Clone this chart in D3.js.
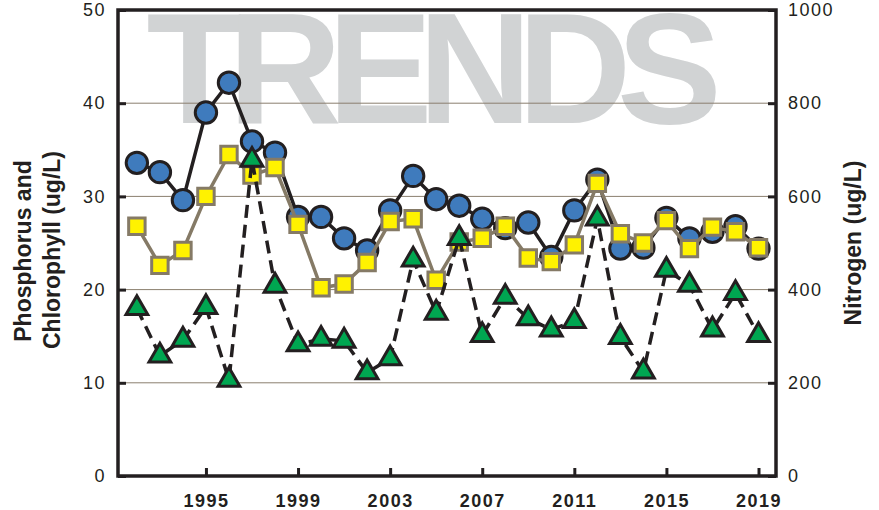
<!DOCTYPE html>
<html>
<head>
<meta charset="utf-8">
<script src="https://cdn.jsdelivr.net/npm/d3@7"></script>
<style>
    body { margin: 0; background: #fff; }
    text { font-family: "Liberation Sans", Arial, sans-serif; fill: #231f20; }
</style>
</head>
<body>
<script>
// data
const years = [1992, 1993, 1994, 1995, 1996, 1997, 1998, 1999, 2000, 2001, 2002, 2003, 2004, 2005,
    2006, 2007, 2008, 2009, 2010, 2011, 2012, 2013, 2014, 2015, 2016, 2017, 2018, 2019];
// right axis (ug/L)
const nitrogen = [672, 652, 592, 780, 844, 718, 694, 556, 556, 510, 484, 570, 644, 594,
    580, 552, 532, 544, 470, 570, 636, 488, 490, 554, 510, 524, 536, 488];
// left axis (ug/L)
const phosphorus = [26.8, 22.6, 24.2, 30.0, 34.5, 32.3, 33.1, 27.0, 20.2, 20.6, 22.9, 27.3, 27.6, 21.0,
    25.1, 25.5, 26.8, 23.4, 23.0, 24.8, 31.4, 26.0, 25.0, 27.4, 24.4, 26.7, 26.2, 24.5];
const chlorophyll = [18.0, 12.9, 14.6, 18.1, 10.3, 33.9, 20.4, 14.1, 14.7, 14.5, 11.1, 12.6, 23.2, 17.5,
    25.5, 15.1, 19.2, 16.9, 15.7, 16.6, 27.6, 14.9, 11.2, 22.1, 20.5, 15.7, 19.6, 15.1];
const leftTicks = [0, 10, 20, 30, 40, 50];
const rightTicks = [0, 200, 400, 600, 800, 1000];
const yearTicks = [1995, 1999, 2003, 2007, 2011, 2015, 2019];

const width = 879;
const height = 510;
const plotLeft = 118, plotRight = 776, plotTop = 10, plotBottom = 476;

const svg = d3.select("body")
    .append("svg")
    .attr("width", width)
    .attr("height", height);

const xScale = d3.scaleLinear()
    .domain([1991.18, 2019.76])
    .range([plotLeft, plotRight]);

const yLeft = d3.scaleLinear()
    .domain([0, 50])
    .range([plotBottom, plotTop]);

const yRight = d3.scaleLinear()
    .domain([0, 1000])
    .range([plotBottom, plotTop]);

// watermark: fit the glyphs into the box x 148..716, y 13..123
const ctx = document.createElement("canvas").getContext("2d");
ctx.font = "bold 100px 'Liberation Sans'";
const m = ctx.measureText("TRENDS");
const wmScale = 110 / m.actualBoundingBoxAscent;
const lsb = -m.actualBoundingBoxLeft * wmScale;
const rsb = (m.width - m.actualBoundingBoxRight) * wmScale;

svg.append("text")
    .attr("x", 148 - lsb)
    .attr("y", 123)
    .attr("font-size", 100 * wmScale)
    .attr("font-weight", "bold")
    .attr("textLength", 568 + lsb + rsb)
    .attr("lengthAdjust", "spacing")
    .style("fill", "#d1d3d4")
    .text("TRENDS");

// gridlines
svg.append("g")
    .selectAll("line")
    .data(leftTicks.filter(d => d > 0 && d < 50))
    .enter()
    .append("line")
    .attr("x1", plotLeft)
    .attr("x2", plotRight)
    .attr("y1", d => yLeft(d))
    .attr("y2", d => yLeft(d))
    .attr("stroke", "#8a7f6e")
    .attr("stroke-width", 1);

// axes, ticks pointing inward
const tickStyle = (g) => {
    g.select(".domain").remove();
    g.selectAll(".tick line").attr("stroke", "#231f20").attr("stroke-width", 3);
    g.selectAll(".tick text")
        .attr("font-size", 18)
        .attr("letter-spacing", "1.5px")
        .style("font-family", "'Liberation Sans', Arial, sans-serif")
        .style("fill", "#231f20");
};

svg.append("g")
    .attr("transform", "translate(" + plotLeft + ",0)")
    .call(d3.axisLeft(yLeft).tickValues(leftTicks).tickSize(-8).tickPadding(12))
    .call(tickStyle);

svg.append("g")
    .attr("transform", "translate(" + plotRight + ",0)")
    .call(d3.axisRight(yRight).tickValues(rightTicks).tickFormat(d3.format("d")).tickSize(-8).tickPadding(12))
    .call(tickStyle);

svg.append("g")
    .attr("transform", "translate(0," + plotBottom + ")")
    .call(d3.axisBottom(xScale).tickValues(yearTicks).tickFormat(d3.format("d")).tickSize(-8).tickPadding(18))
    .call(tickStyle)
    .selectAll(".tick text")
    .attr("font-weight", "bold");

// frame
svg.append("rect")
    .attr("x", plotLeft)
    .attr("y", plotTop)
    .attr("width", plotRight - plotLeft)
    .attr("height", plotBottom - plotTop)
    .attr("fill", "none")
    .attr("stroke", "#231f20")
    .attr("stroke-width", 3.5);

// axis titles
svg.append("text")
    .attr("transform", "translate(31,251) rotate(-90)")
    .attr("text-anchor", "middle")
    .attr("font-size", 23)
    .attr("font-weight", "bold")
    .text("Phosphorus and");

svg.append("text")
    .attr("transform", "translate(60,250) rotate(-90)")
    .attr("text-anchor", "middle")
    .attr("font-size", 23)
    .attr("font-weight", "bold")
    .text("Chlorophyll (ug/L)");

svg.append("text")
    .attr("transform", "translate(861,243) rotate(-90)")
    .attr("text-anchor", "middle")
    .attr("font-size", 23)
    .attr("font-weight", "bold")
    .text("Nitrogen (ug/L)");

// series
const drawSeries = (values, yScale, lineColor, dash, symbol, size, fill, stroke) => {
    const pts = years.map((y, i) => [xScale(y), yScale(values[i])]);
    svg.append("path")
        .attr("d", d3.line()(pts))
        .attr("fill", "none")
        .attr("stroke", lineColor)
        .attr("stroke-width", 3.5)
        .attr("stroke-dasharray", dash);
    svg.append("g")
        .selectAll("path")
        .data(pts)
        .enter()
        .append("path")
        .attr("transform", d => "translate(" + d[0] + "," + d[1] + ")")
        .attr("d", d3.symbol().type(symbol).size(size))
        .attr("fill", fill)
        .attr("stroke", stroke)
        .attr("stroke-width", 3);
};

drawSeries(nitrogen, yRight, "#231f20", null, d3.symbolCircle, 360, "#3f7bbd", "#231f20");
drawSeries(phosphorus, yLeft, "#857a66", null, d3.symbolSquare, 270, "#fff200", "#857a66");
drawSeries(chlorophyll, yLeft, "#231f20", "13,7", d3.symbolTriangle, 205, "#00a651", "#231f20");
</script>
</body>
</html>
